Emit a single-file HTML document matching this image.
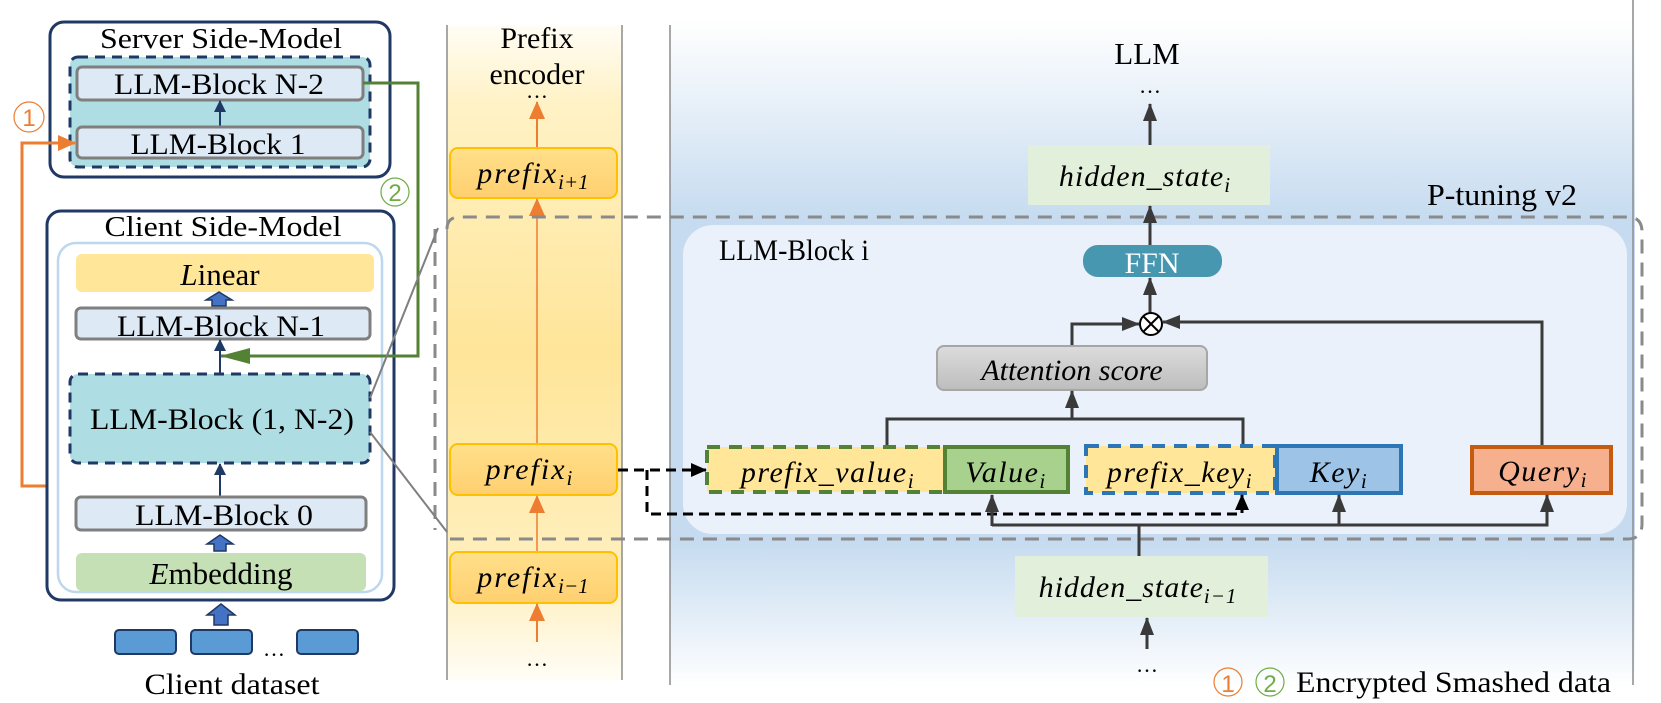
<!DOCTYPE html>
<html><head><meta charset="utf-8"><style>
html,body{margin:0;padding:0;background:#fff;}
svg{display:block;}
text{font-family:"Liberation Serif",serif;}
.m{font-style:italic;}
</style></head><body>
<svg width="1661" height="703" viewBox="0 0 1661 703" xmlns="http://www.w3.org/2000/svg">
<defs>
<linearGradient id="yel" x1="0" y1="0" x2="0" y2="1">
<stop offset="0" stop-color="#fffdf5"/><stop offset="0.12" stop-color="#fff2c6"/><stop offset="0.5" stop-color="#ffe599"/><stop offset="0.85" stop-color="#fff0c0"/><stop offset="1" stop-color="#fffdf6"/>
</linearGradient>
<linearGradient id="blu" x1="0" y1="0" x2="0" y2="1">
<stop offset="0" stop-color="#ffffff"/><stop offset="0.3" stop-color="#c6dbf0"/><stop offset="0.78" stop-color="#c6dbf0"/><stop offset="1" stop-color="#ffffff"/>
</linearGradient>
<linearGradient id="pre" x1="0" y1="0" x2="0" y2="1">
<stop offset="0" stop-color="#ffe08a"/><stop offset="1" stop-color="#ffcf70"/>
</linearGradient>
<linearGradient id="att" x1="0" y1="0" x2="0" y2="1">
<stop offset="0" stop-color="#dcdcdc"/><stop offset="1" stop-color="#bdbdbd"/>
</linearGradient>
<marker id="ad2" markerWidth="18" markerHeight="14" refX="17" refY="7" orient="auto" markerUnits="userSpaceOnUse"><path d="M0,0 L18,7 L0,14 z" fill="#3a3a3a"/></marker>
<marker id="ab" markerWidth="16" markerHeight="14" refX="15" refY="7" orient="auto" markerUnits="userSpaceOnUse"><path d="M0,0 L16,7 L0,14 z" fill="#000"/></marker>
<marker id="ao" markerWidth="18" markerHeight="16" refX="17" refY="8" orient="auto" markerUnits="userSpaceOnUse"><path d="M0,0 L18,8 L0,16 z" fill="#ed7d31"/></marker>
<marker id="ag" markerWidth="30" markerHeight="16" refX="29" refY="8" orient="auto" markerUnits="userSpaceOnUse"><path d="M0,0 L30,8 L0,16 z" fill="#548235"/></marker>
<marker id="an" markerWidth="12" markerHeight="12" refX="11" refY="6" orient="auto" markerUnits="userSpaceOnUse"><path d="M0,0 L12,6 L0,12 z" fill="#1f3864"/></marker>
</defs>

<rect x="447" y="25" width="175" height="655" fill="url(#yel)"/>
<line x1="447" y1="25" x2="447" y2="680" stroke="#8c8c8c" stroke-width="1.5"/>
<line x1="622" y1="25" x2="622" y2="680" stroke="#8c8c8c" stroke-width="1.5"/>
<rect x="670" y="20" width="965" height="668" fill="url(#blu)"/>
<line x1="670" y1="25" x2="670" y2="685" stroke="#8c8c8c" stroke-width="1.5"/>
<line x1="1633" y1="0" x2="1633" y2="685" stroke="#8c8c8c" stroke-width="1.5"/>

<text x="537" y="48" font-size="30" text-anchor="middle">Prefix</text>
<text x="537" y="84" font-size="30" text-anchor="middle">encoder</text>
<text x="537" y="98" font-size="22" text-anchor="middle">…</text>
<line x1="537" y1="148" x2="537" y2="102" stroke="#ed7d31" stroke-width="2" marker-end="url(#ao)"/>
<rect x="450" y="148" width="167" height="50" rx="8" fill="url(#pre)" stroke="#ffc000" stroke-width="2"/>
<text x="533" y="183" font-size="30" class="m" text-anchor="middle" letter-spacing="2">prefix<tspan font-size="21" dy="6" letter-spacing="0">i+1</tspan></text>
<line x1="537" y1="444" x2="537" y2="199" stroke="#ed7d31" stroke-width="1.5" marker-end="url(#ao)"/>
<rect x="450" y="444" width="167" height="51" rx="8" fill="url(#pre)" stroke="#ffc000" stroke-width="2"/>
<text x="530" y="479" font-size="30" class="m" text-anchor="middle" letter-spacing="2">prefix<tspan font-size="21" dy="6">i</tspan></text>
<line x1="537" y1="552" x2="537" y2="496" stroke="#ed7d31" stroke-width="1.5" marker-end="url(#ao)"/>
<rect x="450" y="552" width="167" height="51" rx="8" fill="url(#pre)" stroke="#ffc000" stroke-width="2"/>
<text x="533" y="587" font-size="30" class="m" text-anchor="middle" letter-spacing="2">prefix<tspan font-size="21" dy="6" letter-spacing="0">i−1</tspan></text>
<line x1="537" y1="642" x2="537" y2="604" stroke="#ed7d31" stroke-width="2" marker-end="url(#ao)"/>
<text x="537" y="666" font-size="22" text-anchor="middle">…</text>

<text x="1147" y="64" font-size="31" text-anchor="middle">LLM</text>
<text x="1150" y="93" font-size="22" text-anchor="middle">…</text>
<line x1="1150" y1="145" x2="1150" y2="104" stroke="#3a3a3a" stroke-width="3" marker-end="url(#ad2)"/>
<rect x="1028" y="145" width="242" height="60" fill="#e2efda"/>
<text x="1145" y="186" font-size="30" class="m" text-anchor="middle" letter-spacing="1">hidden_state<tspan font-size="21" dy="6">i</tspan></text>
<text x="1502" y="205" font-size="31" text-anchor="middle" textLength="150" lengthAdjust="spacingAndGlyphs">P-tuning v2</text>

<rect x="683" y="225" width="944" height="309" rx="30" fill="#eaf1fa"/>
<path d="M447,229 Q447,217 460,217 L1628,217 Q1642,217 1642,232 L1642,524 Q1642,539 1628,539 L447,539" fill="none" stroke="#8a8a8a" stroke-width="3" stroke-dasharray="14,9"/>
<line x1="435" y1="229" x2="435" y2="530" stroke="#8a8a8a" stroke-width="3" stroke-dasharray="14,9"/>
<text x="719" y="260" font-size="30" textLength="150" lengthAdjust="spacingAndGlyphs">LLM-Block i</text>

<line x1="1150" y1="245" x2="1150" y2="206" stroke="#3a3a3a" stroke-width="3" marker-end="url(#ad2)"/>
<rect x="1083" y="245" width="139" height="32" rx="15" fill="#4797b0"/>
<text x="1152" y="273" font-size="30" text-anchor="middle" fill="#fff">FFN</text>
<line x1="1150" y1="313" x2="1150" y2="278" stroke="#3a3a3a" stroke-width="3" marker-end="url(#ad2)"/>
<circle cx="1151" cy="324" r="11" fill="#fff" stroke="#000" stroke-width="2"/>
<line x1="1143" y1="316" x2="1159" y2="332" stroke="#000" stroke-width="2"/>
<line x1="1159" y1="316" x2="1143" y2="332" stroke="#000" stroke-width="2"/>
<polyline points="1072,346 1072,324 1139,324" fill="none" stroke="#3a3a3a" stroke-width="3" marker-end="url(#ad2)"/>
<polyline points="1542,445 1542,322 1163,322" fill="none" stroke="#3a3a3a" stroke-width="3" marker-end="url(#ad2)"/>
<rect x="937" y="346" width="270" height="44" rx="7" fill="url(#att)" stroke="#a6a6a6" stroke-width="2"/>
<text x="1072" y="380" font-size="30" class="m" text-anchor="middle">Attention score</text>
<polyline points="887,447 887,419 1243,419 1243,447" fill="none" stroke="#3a3a3a" stroke-width="3"/>
<line x1="1072" y1="419" x2="1072" y2="391" stroke="#3a3a3a" stroke-width="3" marker-end="url(#ad2)"/>

<rect x="707" y="447" width="238" height="45" fill="#ffe699" stroke="#548235" stroke-width="4" stroke-dasharray="13,9"/>
<text x="828" y="482" font-size="30" class="m" text-anchor="middle" letter-spacing="1.5">prefix_value<tspan font-size="21" dy="6">i</tspan></text>
<rect x="945" y="447" width="123" height="45" fill="#a9d18e" stroke="#548235" stroke-width="4"/>
<text x="1006" y="482" font-size="30" class="m" text-anchor="middle" letter-spacing="1.5">Value<tspan font-size="21" dy="6">i</tspan></text>
<rect x="1086" y="446" width="189" height="47" fill="#ffe699" stroke="#2e75b6" stroke-width="4" stroke-dasharray="13,9"/>
<text x="1180" y="482" font-size="30" class="m" text-anchor="middle" letter-spacing="1.5">prefix_key<tspan font-size="21" dy="6">i</tspan></text>
<rect x="1277" y="446" width="124" height="47" fill="#9dc3e6" stroke="#2e75b6" stroke-width="4"/>
<text x="1339" y="482" font-size="30" class="m" text-anchor="middle" letter-spacing="1.5">Key<tspan font-size="21" dy="6">i</tspan></text>
<rect x="1472" y="447" width="139" height="46" fill="#f6b08e" stroke="#c55a11" stroke-width="4"/>
<text x="1543" y="481" font-size="30" class="m" text-anchor="middle" letter-spacing="1.5">Query<tspan font-size="21" dy="6">i</tspan></text>

<line x1="618" y1="470" x2="706" y2="470" stroke="#000" stroke-width="3" stroke-dasharray="10,6" marker-end="url(#ab)"/>
<polyline points="647,470 647,514 1242,514 1242,495" fill="none" stroke="#000" stroke-width="3" stroke-dasharray="10,6" marker-end="url(#ab)"/>

<polyline points="992,525 1547,525 1547,495" fill="none" stroke="#3a3a3a" stroke-width="3" marker-end="url(#ad2)"/>
<line x1="992" y1="526" x2="992" y2="495" stroke="#3a3a3a" stroke-width="3" marker-end="url(#ad2)"/>
<line x1="1339" y1="525" x2="1339" y2="495" stroke="#3a3a3a" stroke-width="3" marker-end="url(#ad2)"/>
<line x1="1139" y1="556" x2="1139" y2="525" stroke="#3a3a3a" stroke-width="3"/>
<rect x="1015" y="556" width="253" height="61" fill="#e2efda"/>
<text x="1138" y="597" font-size="30" class="m" text-anchor="middle" letter-spacing="1">hidden_state<tspan font-size="21" dy="6">i−1</tspan></text>
<line x1="1147" y1="649" x2="1147" y2="618" stroke="#3a3a3a" stroke-width="3" marker-end="url(#ad2)"/>
<text x="1147" y="672" font-size="22" text-anchor="middle">…</text>

<circle cx="1228" cy="682" r="14" fill="none" stroke="#ed7d31" stroke-width="1.2"/>
<text x="1228" y="692" font-size="24" text-anchor="middle" fill="#ed7d31" style="font-family:'Liberation Sans',sans-serif">1</text>
<circle cx="1270" cy="682" r="14" fill="none" stroke="#70ad47" stroke-width="1.2"/>
<text x="1270" y="692" font-size="24" text-anchor="middle" fill="#70ad47" style="font-family:'Liberation Sans',sans-serif">2</text>
<text x="1296" y="692" font-size="30" textLength="315" lengthAdjust="spacingAndGlyphs">Encrypted Smashed data</text>

<rect x="50" y="22" width="340" height="155" rx="14" fill="#fff" stroke="#1f3864" stroke-width="3"/>
<text x="221" y="48" font-size="29" text-anchor="middle" textLength="242" lengthAdjust="spacingAndGlyphs">Server Side-Model</text>
<rect x="70" y="57" width="300" height="110" rx="8" fill="#aedde3" stroke="#1f3864" stroke-width="3" stroke-dasharray="10,7"/>
<rect x="77" y="67" width="286" height="33" rx="5" fill="#dde9f5" stroke="#7f7f7f" stroke-width="3"/>
<text x="219" y="94" font-size="30" text-anchor="middle" textLength="210" lengthAdjust="spacingAndGlyphs">LLM-Block N-2</text>
<line x1="220" y1="127" x2="220" y2="101" stroke="#1f3864" stroke-width="2" marker-end="url(#an)"/>
<rect x="77" y="127" width="286" height="31" rx="5" fill="#dde9f5" stroke="#7f7f7f" stroke-width="3"/>
<text x="218" y="154" font-size="30" text-anchor="middle" textLength="175" lengthAdjust="spacingAndGlyphs">LLM-Block 1</text>

<circle cx="29" cy="117" r="15" fill="#fff" stroke="#ed7d31" stroke-width="1.2"/>
<text x="29" y="126" font-size="24" text-anchor="middle" fill="#ed7d31" style="font-family:'Liberation Sans',sans-serif">1</text>
<polyline points="220,486 22,486 22,143 75,143" fill="none" stroke="#ed7d31" stroke-width="3" marker-end="url(#ao)"/>

<circle cx="395" cy="192" r="14" fill="#fff" stroke="#70ad47" stroke-width="1.2"/>
<text x="395" y="201" font-size="24" text-anchor="middle" fill="#70ad47" style="font-family:'Liberation Sans',sans-serif">2</text>

<rect x="47" y="211" width="347" height="389" rx="14" fill="#fff" stroke="#1f3864" stroke-width="3"/>
<text x="223" y="236" font-size="29" text-anchor="middle" textLength="237" lengthAdjust="spacingAndGlyphs">Client Side-Model</text>
<rect x="58" y="243" width="324" height="349" rx="18" fill="#fff" stroke="#bdd7ee" stroke-width="2.5"/>
<rect x="76" y="254" width="298" height="38" rx="6" fill="#ffe699"/>
<text x="220" y="285" font-size="31" text-anchor="middle"><tspan class="m">L</tspan>inear</text>
<path d="M212,306 L212,300 L206,300 L219,292 L232,300 L226,300 L226,306 z" fill="#4472c4" stroke="#1f3864" stroke-width="1.5"/>
<rect x="76" y="308" width="294" height="31" rx="5" fill="#dde9f5" stroke="#7f7f7f" stroke-width="3"/>
<text x="221" y="336" font-size="30" text-anchor="middle" textLength="208" lengthAdjust="spacingAndGlyphs">LLM-Block N-1</text>
<line x1="220" y1="374" x2="220" y2="340" stroke="#1f3864" stroke-width="2" marker-end="url(#an)"/>
<polyline points="363,83 418,83 418,356 221,356" fill="none" stroke="#548235" stroke-width="3" marker-end="url(#ag)"/>
<rect x="70" y="374" width="300" height="89" rx="8" fill="#aedde3" stroke="#1f3864" stroke-width="3" stroke-dasharray="10,7"/>
<text x="222" y="429" font-size="30" text-anchor="middle" textLength="264" lengthAdjust="spacingAndGlyphs">LLM-Block (1, N-2)</text>
<line x1="220" y1="497" x2="220" y2="464" stroke="#1f3864" stroke-width="2" marker-end="url(#an)"/>
<rect x="76" y="497" width="290" height="33" rx="5" fill="#dde9f5" stroke="#7f7f7f" stroke-width="3"/>
<text x="224" y="525" font-size="30" text-anchor="middle" textLength="178" lengthAdjust="spacingAndGlyphs">LLM-Block 0</text>
<path d="M214,551 L214,544 L207,544 L220,535 L233,544 L226,544 L226,551 z" fill="#4472c4" stroke="#1f3864" stroke-width="1.5"/>
<rect x="76" y="553" width="290" height="38" rx="6" fill="#c5e0b4"/>
<text x="221" y="584" font-size="31" text-anchor="middle"><tspan class="m">E</tspan>mbedding</text>
<path d="M214,625 L214,615 L207,615 L221,604 L235,615 L228,615 L228,625 z" fill="#4472c4" stroke="#1f3864" stroke-width="1.5"/>
<rect x="115" y="630" width="61" height="24" rx="4" fill="#5b9bd5" stroke="#1f3864" stroke-width="2"/>
<rect x="191" y="630" width="61" height="24" rx="4" fill="#5b9bd5" stroke="#1f3864" stroke-width="2"/>
<rect x="297" y="630" width="61" height="24" rx="4" fill="#5b9bd5" stroke="#1f3864" stroke-width="2"/>
<text x="274" y="656" font-size="22" text-anchor="middle">…</text>
<text x="232" y="694" font-size="30" text-anchor="middle" textLength="175" lengthAdjust="spacingAndGlyphs">Client dataset</text>

<line x1="370" y1="398" x2="438" y2="228" stroke="#7f7f7f" stroke-width="2"/>
<line x1="370" y1="432" x2="447" y2="532" stroke="#7f7f7f" stroke-width="2"/>
</svg>
</body></html>
